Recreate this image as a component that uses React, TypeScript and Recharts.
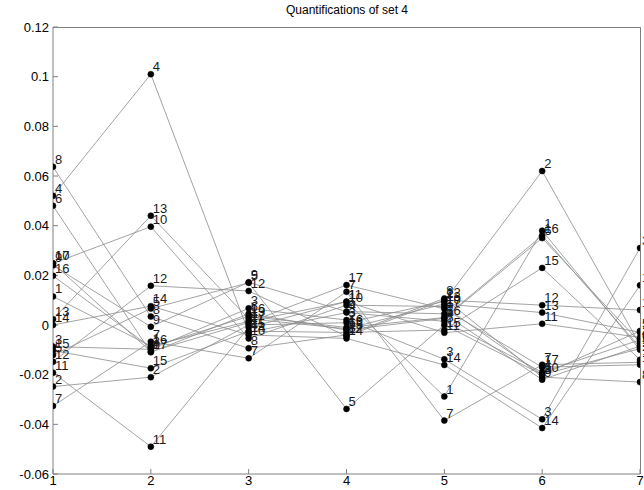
import React from 'react';
import { LineChart, Line, XAxis, YAxis, LabelList } from 'recharts';

// positions along the x axis
const positions = [1, 2, 3, 4, 5, 6, 7];
const yTicks = [-0.06, -0.04, -0.02, 0, 0.02, 0.04, 0.06, 0.08, 0.1, 0.12];

// one array per object, values at positions 1..7
const q1 = [0.0115, -0.0085, 0.0015, 0.0094, -0.0288, 0.038, -0.01];
const q2 = [-0.0248, -0.021, 0.0, 0.0009, 0.0095, 0.062, -0.008];
const q3 = [-0.0087, -0.0098, 0.0067, 0.002, -0.0138, -0.038, 0.031];
const q4 = [0.052, 0.101, -0.003, 0.005, 0.0015, -0.019, -0.006];
const q5 = [-0.0121, 0.0066, 0.017, -0.0338, 0.0, -0.02, -0.0024];
const q6 = [0.048, -0.011, 0.0045, -0.002, 0.0027, 0.035, -0.007];
const q7 = [-0.0326, -0.0067, -0.0134, 0.0134, -0.0385, -0.016, -0.015];
const q8 = [0.0637, 0.0034, -0.0094, -0.004, 0.0107, -0.021, -0.023];
const q9 = [0.024, -0.0007, 0.0172, 0.0054, 0.0045, -0.022, -0.0085];
const q10 = [0.0248, 0.0396, -0.0054, 0.008, 0.0074, -0.02, -0.0095];
const q11 = [-0.0192, -0.049, -0.001, 0.0094, -0.0031, 0.0005, -0.005];
const q12 = [-0.0148, 0.0158, 0.0137, -0.0045, 0.01, 0.008, 0.006];
const q13 = [0.0023, 0.044, 0.0025, -0.0015, 0.0085, 0.005, -0.003];
const q14 = [0.0, 0.0076, -0.004, -0.0054, -0.0161, -0.0415, 0.016];
const q15 = [-0.0103, -0.0174, -0.0025, -0.003, -0.002, 0.023, -0.014];
const q16 = [0.0198, -0.009, 0.0035, -0.001, 0.003, 0.036, -0.009];
const q17 = [0.0248, -0.0107, 0.001, 0.0161, 0.0065, -0.017, -0.016];

const series = [q1, q2, q3, q4, q5, q6, q7, q8, q9, q10, q11, q12, q13, q14, q15, q16, q17];

const data = positions.map((x, i) => {
  const row: Record<string, number> = { x };
  series.forEach((s, k) => {
    row[`s${k + 1}`] = s[i];
  });
  return row;
});

const fmt = (v: number) => String(Number(v.toFixed(2)));
const font = 'Arial, "Liberation Sans", sans-serif';
const axisColor = '#808080';

const W = 644;
const H = 490;
const margin = { top: 27, right: 4, bottom: 0, left: 0 };
const yAxisWidth = 53;
const xAxisHeight = 16;

const pointLabel = (name: string) => (props: any) => {
  const { x, y } = props;
  if (x == null || y == null) return null;
  return (
    <text x={x + 2} y={y - 3} fontSize={13} fontFamily={font} fill="#1a1a1a">
      {name}
    </text>
  );
};

export default function App() {
  return (
    <div style={{ position: 'absolute', left: 0, top: 0, width: W, height: H, background: '#fff' }}>
      <div
        style={{
          position: 'absolute',
          left: 0,
          width: 694,
          top: 3,
          textAlign: 'center',
          fontFamily: font,
          fontSize: 12,
          color: '#000',
        }}
      >
        Quantifications of set 4
      </div>
      <LineChart width={W} height={H} data={data} margin={margin}>
        <XAxis
          dataKey="x"
          type="number"
          domain={[1, 7]}
          ticks={positions}
          allowDataOverflow
          height={xAxisHeight}
          stroke={axisColor}
          tickSize={-5}
          tickMargin={7}
          tick={{ fill: '#000', fontSize: 13, fontFamily: font }}
        />
        <YAxis
          type="number"
          domain={[-0.06, 0.12]}
          ticks={yTicks}
          allowDataOverflow
          width={yAxisWidth}
          stroke={axisColor}
          tickSize={-5}
          tickMargin={9}
          tickFormatter={fmt}
          tick={{ fill: '#000', fontSize: 13, fontFamily: font }}
        />
        {series.map((_, k) => (
          <Line
            key={k}
            dataKey={`s${k + 1}`}
            stroke="#8c8c8c"
            strokeWidth={0.8}
            dot={{ r: 3, fill: '#000', stroke: '#000', strokeWidth: 0.5 }}
            activeDot={false}
            isAnimationActive={false}
          >
            <LabelList dataKey={`s${k + 1}`} content={pointLabel(String(k + 1))} />
          </Line>
        ))}
      </LineChart>
      {/* top and right edges of the plot box */}
      <div
        style={{
          position: 'absolute',
          zIndex: 2,
          left: yAxisWidth,
          top: margin.top,
          width: W - margin.right - yAxisWidth + 1,
          height: H - margin.top - xAxisHeight,
          borderTop: `1px solid ${axisColor}`,
          borderRight: `1px solid ${axisColor}`,
          boxSizing: 'border-box',
          pointerEvents: 'none',
        }}
      />
    </div>
  );
}
